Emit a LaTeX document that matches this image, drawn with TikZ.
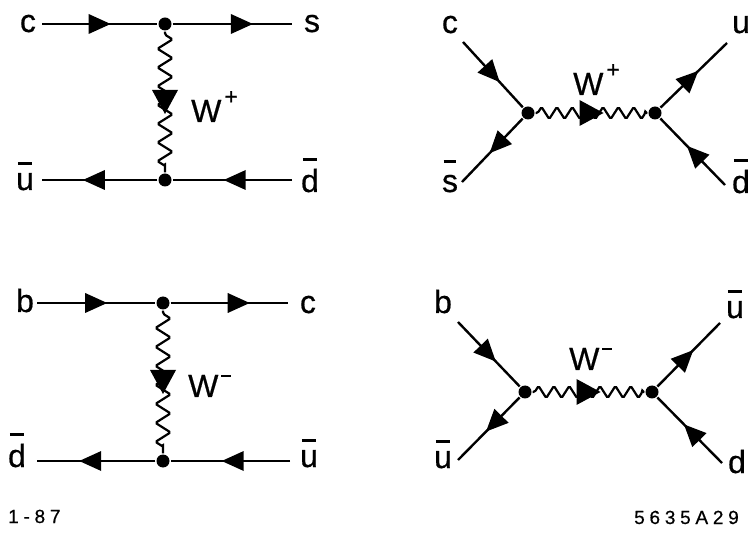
\documentclass[tikz,border=0pt]{standalone}
\usepackage{fontspec}
\setmainfont{Liberation Sans}[FakeBold=0.6]
\usetikzlibrary{decorations.markings,decorations.pathmorphing}
\newcommand{\barlet}[2]{\setbox0\hbox{#1}\rlap{\hbox to \wd0{\hss\rule[#2]{0.8\wd0}{2.6pt}\hss}}\box0}
\newcommand{\Wp}{W\kern3pt\raisebox{0.55em}{\fontsize{23}{23}\selectfont +}}
\newcommand{\Wm}{W\kern3pt\raisebox{0.62em}{\rule{0.3em}{2.6pt}}}
\begin{document}
\begin{tikzpicture}[x=1pt,y=-1pt,line width=2.4pt,
  fline/.style={postaction={decorate},decoration={markings,
      mark=at position #1 with {\fill (11pt,0pt) -- (-11pt,10pt) -- (-11pt,-10pt) -- cycle;}}},
  fline/.default=0.5,
  wmark/.style={draw=none,postaction={decorate},decoration={markings,
      mark=at position 0.5 with {\fill (12pt,0pt) -- (-12pt,13pt) -- (-12pt,-13pt) -- cycle;}}},
  wvert/.style={line width=2.2pt,rounded corners=1.5pt,decorate,decoration={zigzag,segment length=#1,amplitude=7.5pt,pre length=3pt,post length=3pt}},
  whor/.style={line width=2.2pt,rounded corners=1.5pt,decorate,decoration={zigzag,segment length=15.37pt,amplitude=6pt,pre length=2pt,post length=2pt}},
  vtx/.style={circle,fill,inner sep=0pt,minimum size=13pt},
  lbl/.style={font=\fontsize{32}{32}\selectfont,inner sep=0pt,anchor=base},
  wlbl/.style={font=\fontsize{32}{32}\selectfont,inner sep=0pt,anchor=base west},
  captxt/.style={font=\fontsize{19}{19}\selectfont\addfontfeature{LetterSpace=25},inner sep=0pt,anchor=base west}
]
\useasboundingbox (0,0) rectangle (755,534);

% ---------- top left ----------
\coordinate (tlA) at (42,24);
\coordinate (tlB) at (292,24);
\coordinate (tlC) at (42,180);
\coordinate (tlD) at (292,180);
\node[vtx] (tlV1) at (165,24) {};
\node[vtx] (tlV2) at (165,180) {};
\node[lbl] (tlc) at (28,32) {c};
\node[lbl] (tls) at (312,32) {s};
\node[lbl] (tlu) at (25,190) {\barlet{u}{0.78em}};
\node[lbl] (tld) at (310,192) {\barlet{d}{0.97em}};
\node[wlbl] (tlW) at (190,122) {\Wp};
\draw[fline] (tlA) -- (tlV1);
\draw[fline=0.58] (tlV1) -- (tlB);
\draw[fline=0.55] (tlV2) -- (tlC);
\draw[fline=0.48] (tlD) -- (tlV2);
\draw[wvert=18.74pt] (tlV1) -- (tlV2);
\path[wmark] (tlV1) -- (tlV2);

% ---------- top right ----------
\coordinate (trA) at (463,42);
\coordinate (trB) at (462,182);
\coordinate (trC) at (727,43);
\coordinate (trD) at (725,185);
\node[vtx] (trV1) at (528,113) {};
\node[vtx] (trV2) at (655,113) {};
\node[lbl] (trc) at (450,33) {c};
\node[lbl] (trs) at (450,192) {\barlet{s}{0.92em}};
\node[lbl] (tru) at (741,33) {u};
\node[lbl] (trd) at (741,193) {\barlet{d}{0.97em}};
\node[wlbl] (trW) at (572,95) {\Wp};
\draw[fline=0.49] (trA) -- (trV1);
\draw[fline=0.42] (trV1) -- (trB);
\draw[fline=0.45] (trV2) -- (trC);
\draw[fline=0.47] (trD) -- (trV2);
\draw[whor] (trV1) -- (trV2);
\path[wmark] (trV1) -- (trV2);

% ---------- bottom left ----------
\coordinate (blA) at (37,303);
\coordinate (blB) at (288,303);
\coordinate (blC) at (37,461);
\coordinate (blD) at (290,461);
\node[vtx] (blV1) at (163,303) {};
\node[vtx] (blV2) at (163,461) {};
\node[lbl] (blb) at (25,312) {b};
\node[lbl] (blc) at (308,313) {c};
\node[lbl] (bld) at (17,467) {\barlet{d}{0.97em}};
\node[lbl] (blu) at (309,467) {\barlet{u}{0.78em}};
\node[wlbl] (blW) at (187,397) {\Wm};
\draw[fline] (blA) -- (blV1);
\draw[fline=0.58] (blV1) -- (blB);
\draw[fline=0.55] (blV2) -- (blC);
\draw[fline=0.48] (blD) -- (blV2);
\draw[wvert=18.99pt] (blV1) -- (blV2);
\path[wmark] (blV1) -- (blV2);

% ---------- bottom right ----------
\coordinate (brA) at (458,322);
\coordinate (brB) at (458,460);
\coordinate (brC) at (720,323);
\coordinate (brD) at (722,463);
\node[vtx] (brV1) at (525,392) {};
\node[vtx] (brV2) at (652,392) {};
\node[lbl] (brb) at (443,313) {b};
\node[lbl] (bru1) at (443,468) {\barlet{u}{0.78em}};
\node[lbl] (bru2) at (735,318) {\barlet{u}{0.78em}};
\node[lbl] (brd) at (737,473) {d};
\node[wlbl] (brW) at (568,370) {\Wm};
\draw[fline=0.49] (brA) -- (brV1);
\draw[fline=0.42] (brV1) -- (brB);
\draw[fline=0.45] (brV2) -- (brC);
\draw[fline=0.47] (brD) -- (brV2);
\draw[whor] (brV1) -- (brV2);
\path[wmark] (brV1) -- (brV2);

% ---------- captions ----------
\node[captxt] (date) at (7,523) {1-87};
\node[captxt] (code) at (633,524) {5635A29};
\end{tikzpicture}
\end{document}
